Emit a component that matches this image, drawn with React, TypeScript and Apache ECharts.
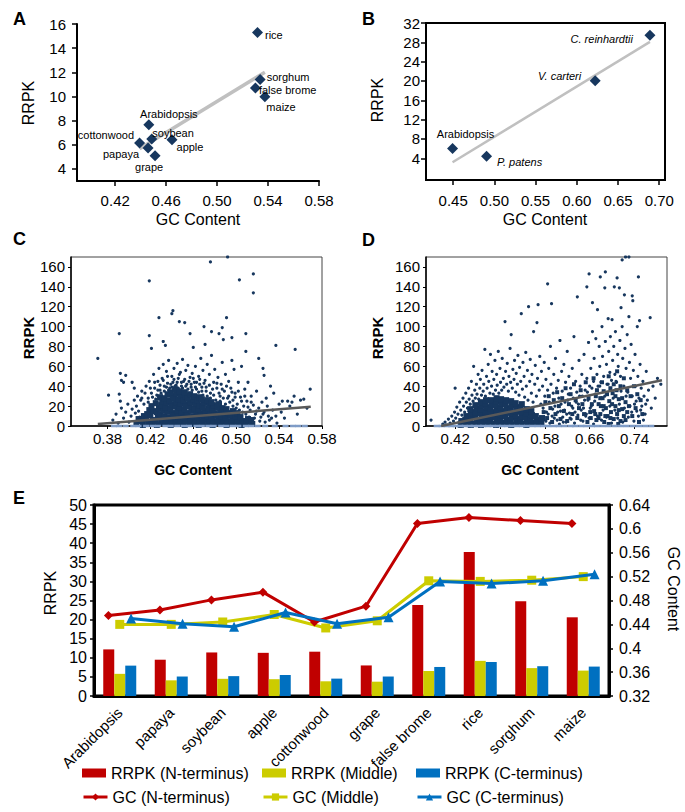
import React, { useEffect, useRef } from "react";
import * as echarts from "echarts";

const FONT = '"Liberation Sans", Arial, Helvetica, sans-serif';
const NAVY = "#17375E";
const RED = "#C00000";
const YEL = "#CCCC00";
const BLU = "#0070C0";

// ---------- Panel A ----------
const aSpecies = ["rice", "sorghum", "false brome", "maize", "Arabidopsis", "soybean", "apple", "cottonwood", "papaya", "grape"];
const aGC = [0.5317, 0.5338, 0.5301, 0.5375, 0.4464, 0.4487, 0.4646, 0.4391, 0.4458, 0.4513];
const aRRPK = [15.3, 11.4, 10.7, 9.97, 7.66, 6.48, 6.42, 6.15, 5.73, 5.1];
const aXTicks = [0.42, 0.46, 0.5, 0.54, 0.58];
const aYTicks = [4, 6, 8, 10, 12, 14, 16];

// ---------- Panel B ----------
const bSpecies = ["Arabidopsis", "P. patens", "V. carteri", "C. reinhardtii"];
const bGC = [0.4492, 0.4905, 0.6223, 0.6887];
const bRRPK = [6.0, 4.42, 20.04, 29.44];
const bXTicks = [0.45, 0.5, 0.55, 0.6, 0.65, 0.7];
const bYTicks = [4, 8, 12, 16, 20, 24, 28, 32];

// ---------- Panel C ----------
const cXTicks = [0.38, 0.42, 0.46, 0.5, 0.54, 0.58];
const cYTicks = [0, 20, 40, 60, 80, 100, 120, 140, 160];
const cTrend = [[0.371, 2], [0.5695, 19.4]];
const cCore = [
  [0.407, 2], [0.409, 7], [0.413, 1], [0.412, 5], [0.414, 10], [0.418, 3], [0.416, 7], [0.417, 12], [0.419, 16],
  [0.421, 2], [0.422, 6], [0.42, 11], [0.423, 15], [0.421, 20], [0.426, 1], [0.425, 5], [0.427, 9], [0.426, 14], [0.428, 18], [0.425, 23],
  [0.43, 3], [0.431, 7], [0.429, 12], [0.432, 16], [0.43, 21], [0.431, 25], [0.429, 29],
  [0.434, 2], [0.435, 6], [0.433, 10], [0.436, 15], [0.434, 19], [0.435, 24], [0.433, 28], [0.436, 32],
  [0.439, 1], [0.44, 5], [0.438, 9], [0.441, 13], [0.439, 18], [0.44, 22], [0.438, 26], [0.441, 30], [0.439, 34],
  [0.443, 3], [0.444, 7], [0.442, 11], [0.445, 15], [0.443, 20], [0.444, 24], [0.442, 28], [0.444, 33], [0.443, 37],
  [0.447, 2], [0.448, 6], [0.446, 10], [0.449, 14], [0.447, 19], [0.448, 23], [0.446, 27], [0.448, 31], [0.447, 35],
  [0.452, 1], [0.453, 5], [0.451, 9], [0.454, 13], [0.452, 17], [0.453, 22], [0.451, 26], [0.453, 30], [0.452, 34],
  [0.456, 3], [0.457, 7], [0.455, 11], [0.458, 16], [0.456, 20], [0.457, 24], [0.455, 28], [0.457, 32],
  [0.461, 2], [0.462, 6], [0.46, 10], [0.463, 14], [0.461, 18], [0.462, 23], [0.46, 27], [0.461, 30],
  [0.465, 1], [0.466, 5], [0.464, 9], [0.467, 13], [0.465, 17], [0.466, 21], [0.464, 26], [0.466, 29],
  [0.469, 3], [0.47, 7], [0.468, 11], [0.471, 15], [0.469, 19], [0.47, 24], [0.468, 27],
  [0.474, 2], [0.475, 6], [0.473, 10], [0.476, 14], [0.474, 18], [0.475, 22], [0.473, 26],
  [0.478, 1], [0.479, 5], [0.477, 9], [0.48, 13], [0.478, 17], [0.479, 21], [0.477, 24],
  [0.483, 3], [0.484, 7], [0.482, 11], [0.485, 15], [0.483, 19], [0.484, 22],
  [0.487, 2], [0.488, 6], [0.486, 10], [0.489, 14], [0.487, 18], [0.491, 1], [0.492, 5], [0.49, 9], [0.493, 13], [0.491, 17],
  [0.496, 3], [0.497, 7], [0.495, 11], [0.497, 15], [0.5, 2], [0.501, 6], [0.499, 10], [0.501, 13],
  [0.505, 1], [0.506, 5], [0.504, 9], [0.51, 3], [0.511, 7], [0.515, 2], [0.514, 6],
];
const cMid = [
  [0.385, 6], [0.388, 12], [0.39, 3], [0.393, 18], [0.395, 8], [0.397, 14], [0.399, 22], [0.4, 4], [0.402, 10], [0.403, 17],
  [0.405, 26], [0.406, 13], [0.407, 20], [0.409, 15], [0.41, 9],
  [0.405, 38], [0.408, 30], [0.411, 26], [0.412, 35], [0.414, 22], [0.416, 40], [0.418, 28], [0.419, 45], [0.421, 33], [0.423, 52],
  [0.424, 38], [0.425, 27], [0.427, 45], [0.428, 58], [0.429, 36], [0.431, 48], [0.432, 62], [0.433, 40], [0.435, 55], [0.436, 43],
  [0.437, 66], [0.438, 38], [0.44, 50], [0.441, 44], [0.442, 58], [0.444, 41], [0.445, 63], [0.446, 48], [0.448, 54], [0.449, 40],
  [0.45, 67], [0.451, 45], [0.453, 56], [0.454, 42], [0.455, 61], [0.457, 49], [0.458, 39], [0.459, 53], [0.461, 44], [0.462, 60],
  [0.463, 37], [0.465, 50], [0.466, 42], [0.467, 68], [0.468, 35], [0.469, 56], [0.471, 46], [0.472, 39], [0.473, 62], [0.475, 52],
  [0.476, 33], [0.477, 71], [0.479, 44], [0.48, 57], [0.482, 38], [0.483, 49], [0.485, 30], [0.486, 42], [0.487, 64], [0.489, 35],
  [0.49, 52], [0.492, 28], [0.493, 45], [0.495, 38], [0.497, 26], [0.498, 57], [0.499, 33], [0.501, 22], [0.502, 44], [0.504, 29],
  [0.505, 60], [0.507, 20], [0.508, 37], [0.51, 25], [0.511, 44], [0.513, 16], [0.514, 30], [0.516, 21], [0.518, 12], [0.519, 35],
  [0.521, 18], [0.523, 9], [0.524, 24], [0.526, 14], [0.529, 20], [0.531, 6], [0.534, 16], [0.537, 10], [0.54, 22], [0.545, 8],
  [0.552, 24], [0.557, 12], [0.56, 26], [0.566, 18],
  [0.412, 28], [0.415, 33], [0.418, 24], [0.42, 38], [0.422, 29], [0.424, 44], [0.426, 31], [0.427, 36], [0.429, 41], [0.43, 33],
  [0.432, 46], [0.433, 35], [0.435, 39], [0.436, 50], [0.437, 36], [0.439, 42], [0.44, 39], [0.442, 47], [0.443, 40], [0.445, 44],
  [0.446, 38], [0.447, 52], [0.449, 44], [0.45, 38], [0.452, 47], [0.453, 40], [0.455, 37], [0.456, 45], [0.458, 42], [0.459, 36],
  [0.46, 48], [0.462, 39], [0.463, 44], [0.465, 34], [0.466, 47], [0.468, 39], [0.469, 31], [0.47, 43], [0.472, 35], [0.473, 30],
  [0.475, 41], [0.476, 28], [0.478, 37], [0.479, 31], [0.481, 26], [0.482, 43], [0.484, 33], [0.485, 25], [0.487, 37], [0.488, 28],
  [0.49, 22], [0.491, 40], [0.493, 30], [0.494, 24], [0.496, 34], [0.497, 20], [0.499, 29], [0.5, 18], [0.502, 35], [0.503, 16],
  [0.505, 25], [0.506, 14], [0.508, 30], [0.509, 12], [0.511, 19], [0.512, 9], [0.514, 24], [0.517, 8], [0.519, 15], [0.522, 5],
  [0.525, 12], [0.527, 4], [0.533, 8], [0.538, 3],
];
const cOut = [
  [0.371, 68], [0.381, 31], [0.391, 93], [0.392, 53], [0.393, 46], [0.391, 32], [0.392, 25], [0.397, 51], [0.395, 44], [0.403, 44],
  [0.419, 146], [0.419, 91], [0.421, 78], [0.428, 109], [0.432, 85], [0.434, 81], [0.44, 113], [0.441, 116], [0.447, 105], [0.452, 104],
  [0.457, 93], [0.46, 79], [0.47, 100], [0.471, 82], [0.476, 165], [0.477, 95], [0.484, 93], [0.487, 99], [0.488, 87], [0.491, 109],
  [0.492, 170], [0.496, 89], [0.496, 66], [0.503, 147], [0.509, 93], [0.509, 75], [0.516, 153], [0.516, 134], [0.521, 68], [0.525, 58],
  [0.526, 51], [0.537, 81], [0.555, 77], [0.569, 37], [0.563, 27], [0.554, 30], [0.548, 25], [0.543, 25], [0.532, 40], [0.535, 33],
  [0.528, 28], [0.542, 14], [0.55, 20], [0.53, 10],
];
const cZero = [
  [0.386, 0], [0.391, 0], [0.397, 0], [0.404, 0], [0.409, 0], [0.416, 0], [0.422, 0], [0.427, 0], [0.434, 0], [0.439, 0],
  [0.445, 0], [0.451, 0], [0.456, 0], [0.463, 0], [0.468, 0], [0.474, 0], [0.479, 0], [0.486, 0], [0.491, 0], [0.497, 0],
  [0.502, 0], [0.509, 0], [0.514, 0], [0.52, 0], [0.527, 0], [0.536, 0], [0.546, 0], [0.553, 0], [0.558, 0], [0.564, 0],
];

// ---------- Panel D ----------
const dXTicks = [0.42, 0.5, 0.58, 0.66, 0.74];
const dYTicks = [0, 20, 40, 60, 80, 100, 120, 140, 160];
const dTrend = [[0.395, 0], [0.789, 46]];
const dCore = [
  [0.43, 1], [0.431, 5], [0.439, 2], [0.438, 6], [0.44, 10], [0.448, 1], [0.447, 5], [0.449, 9], [0.448, 13], [0.447, 17],
  [0.457, 2], [0.458, 6], [0.456, 10], [0.457, 14], [0.458, 18], [0.456, 21],
  [0.466, 1], [0.465, 5], [0.467, 9], [0.466, 13], [0.465, 17], [0.467, 21], [0.466, 24],
  [0.475, 3], [0.476, 7], [0.474, 11], [0.475, 15], [0.476, 19], [0.474, 23], [0.475, 26],
  [0.484, 2], [0.483, 6], [0.485, 10], [0.484, 14], [0.483, 18], [0.485, 22], [0.484, 26],
  [0.493, 1], [0.494, 5], [0.492, 9], [0.493, 13], [0.494, 17], [0.492, 21], [0.493, 25], [0.494, 28],
  [0.502, 3], [0.501, 7], [0.503, 11], [0.502, 15], [0.501, 19], [0.503, 23], [0.502, 27],
  [0.511, 2], [0.512, 6], [0.51, 10], [0.511, 14], [0.512, 18], [0.51, 22], [0.511, 26],
  [0.52, 1], [0.519, 5], [0.521, 9], [0.52, 13], [0.519, 17], [0.521, 21], [0.52, 25],
  [0.529, 3], [0.53, 7], [0.528, 11], [0.529, 15], [0.53, 19], [0.528, 23],
  [0.538, 2], [0.537, 6], [0.539, 10], [0.538, 14], [0.537, 18], [0.539, 22],
  [0.547, 1], [0.548, 5], [0.546, 9], [0.547, 13], [0.548, 17], [0.556, 3], [0.555, 7], [0.557, 11], [0.556, 15],
  [0.565, 2], [0.566, 6], [0.564, 10], [0.574, 4], [0.575, 8],
];
const dBand = [
  [0.662, 8], [0.668, 15], [0.672, 6], [0.676, 22], [0.679, 12], [0.683, 28], [0.686, 4], [0.689, 18], [0.692, 10], [0.695, 25],
  [0.698, 14], [0.701, 33], [0.703, 7], [0.706, 20], [0.709, 12], [0.712, 27], [0.715, 5], [0.718, 17], [0.721, 10], [0.724, 24],
  [0.727, 14], [0.671, 30], [0.685, 35], [0.697, 38], [0.708, 36], [0.68, 20], [0.694, 2], [0.711, 2],
  [0.578, 14], [0.581, 24], [0.584, 8], [0.587, 30], [0.59, 18], [0.593, 4], [0.596, 26], [0.599, 12], [0.602, 34], [0.605, 20],
  [0.608, 7], [0.611, 28], [0.614, 15], [0.617, 38], [0.62, 5], [0.623, 22], [0.626, 32], [0.629, 12], [0.632, 42], [0.635, 26],
  [0.638, 8], [0.641, 18], [0.644, 36], [0.647, 22], [0.65, 12], [0.653, 44], [0.656, 4], [0.658, 28], [0.661, 14], [0.664, 22],
  [0.667, 48], [0.67, 12], [0.673, 36], [0.676, 8], [0.679, 28], [0.682, 44], [0.685, 20], [0.688, 10], [0.691, 32], [0.694, 50],
  [0.697, 8], [0.7, 22], [0.703, 42], [0.706, 30], [0.709, 55], [0.712, 16], [0.715, 40], [0.718, 28], [0.721, 48], [0.724, 6],
  [0.727, 36], [0.73, 20], [0.733, 30], [0.736, 10], [0.739, 40], [0.742, 18], [0.745, 32], [0.748, 4], [0.751, 26], [0.754, 12],
];
const dMid = [
  [0.398, 2], [0.402, 4], [0.405, 1], [0.408, 7], [0.411, 3], [0.414, 10], [0.417, 5], [0.419, 14], [0.421, 8], [0.423, 19],
  [0.425, 12], [0.427, 4], [0.428, 24], [0.43, 16], [0.432, 11], [0.434, 28], [0.435, 20], [0.437, 14], [0.439, 33], [0.44, 24],
  [0.442, 18], [0.444, 38], [0.445, 27], [0.447, 22], [0.449, 45], [0.45, 31], [0.452, 25], [0.453, 60], [0.455, 36], [0.456, 28],
  [0.458, 42], [0.459, 32], [0.461, 52], [0.462, 27], [0.464, 38], [0.465, 47], [0.467, 31], [0.468, 56], [0.47, 35], [0.471, 42],
  [0.473, 77], [0.474, 30], [0.476, 50], [0.477, 38], [0.479, 62], [0.48, 45], [0.482, 33], [0.483, 72], [0.485, 40], [0.486, 55],
  [0.488, 32], [0.489, 47], [0.491, 66], [0.492, 36], [0.494, 52], [0.495, 41], [0.497, 75], [0.498, 33], [0.5, 58], [0.501, 44],
  [0.503, 36], [0.504, 68], [0.506, 48], [0.507, 39], [0.509, 105], [0.51, 55], [0.512, 42], [0.513, 63], [0.515, 35], [0.516, 50],
  [0.518, 78], [0.519, 44], [0.52, 92], [0.522, 38], [0.523, 57], [0.525, 47], [0.526, 66], [0.528, 34], [0.529, 53], [0.531, 42],
  [0.532, 71], [0.534, 31], [0.535, 59], [0.537, 45], [0.538, 113], [0.54, 37], [0.541, 64], [0.543, 50], [0.544, 29], [0.546, 74],
  [0.547, 40], [0.549, 56], [0.55, 26], [0.551, 120], [0.553, 45], [0.554, 67], [0.556, 33], [0.557, 52], [0.559, 24], [0.56, 95],
  [0.562, 42], [0.563, 61], [0.565, 30], [0.566, 104], [0.567, 48], [0.568, 122], [0.57, 36], [0.571, 70], [0.573, 22], [0.574, 55],
  [0.576, 40], [0.577, 18], [0.579, 64], [0.58, 30], [0.582, 47], [0.583, 14], [0.585, 143], [0.585, 36], [0.587, 58], [0.588, 24],
  [0.59, 80], [0.591, 42], [0.592, 123], [0.593, 10], [0.595, 33], [0.596, 52], [0.598, 20], [0.599, 68], [0.601, 38], [0.602, 6],
  [0.604, 46], [0.605, 28], [0.607, 86], [0.608, 15], [0.61, 55], [0.611, 35], [0.613, 4], [0.614, 62], [0.616, 24], [0.617, 44],
  [0.619, 12], [0.62, 75], [0.622, 32], [0.623, 50], [0.625, 8], [0.626, 38], [0.628, 20], [0.629, 58], [0.631, 28], [0.632, 90],
  [0.634, 14], [0.635, 45], [0.637, 34], [0.638, 130], [0.64, 22], [0.641, 66], [0.643, 40], [0.644, 6], [0.646, 52], [0.647, 30],
  [0.649, 18], [0.65, 72], [0.652, 36], [0.653, 10], [0.655, 140], [0.655, 48], [0.657, 26], [0.658, 84], [0.659, 153], [0.66, 40],
  [0.662, 58], [0.663, 20], [0.665, 124], [0.665, 95], [0.667, 45], [0.668, 68], [0.67, 32], [0.671, 88], [0.673, 52], [0.674, 117],
  [0.675, 40], [0.677, 80], [0.678, 60], [0.679, 150], [0.68, 44], [0.682, 100], [0.683, 70], [0.685, 50], [0.687, 139], [0.688, 155],
  [0.688, 85], [0.69, 62], [0.691, 42], [0.693, 108], [0.694, 75], [0.696, 54], [0.697, 90], [0.699, 46], [0.7, 107], [0.701, 66],
  [0.703, 80], [0.704, 140], [0.705, 52], [0.706, 95], [0.708, 44], [0.709, 149], [0.71, 72], [0.711, 60], [0.713, 139], [0.714, 86],
  [0.715, 50], [0.716, 119], [0.718, 167], [0.718, 100], [0.719, 68], [0.721, 40], [0.722, 132], [0.723, 78], [0.724, 170], [0.725, 58],
  [0.727, 92], [0.728, 34], [0.73, 110], [0.73, 170], [0.731, 64], [0.733, 48], [0.734, 82], [0.736, 131], [0.736, 30], [0.737, 126],
  [0.738, 56], [0.74, 22], [0.741, 72], [0.742, 40], [0.744, 15], [0.745, 100], [0.746, 50], [0.747, 150], [0.748, 28], [0.749, 106],
  [0.75, 62], [0.752, 38], [0.753, 20], [0.755, 45], [0.757, 30], [0.759, 12], [0.761, 55], [0.763, 26], [0.765, 36], [0.768, 109],
  [0.77, 18], [0.773, 40], [0.777, 28], [0.781, 48], [0.787, 42], [0.377, 6], [0.42, 38],
  [0.582, 5], [0.586, 12], [0.589, 3], [0.594, 17], [0.597, 8], [0.603, 14], [0.606, 2], [0.609, 22], [0.612, 9], [0.615, 16],
  [0.618, 4], [0.621, 26], [0.624, 13], [0.627, 7], [0.63, 18], [0.633, 3], [0.636, 24], [0.639, 11], [0.642, 30], [0.645, 16],
  [0.648, 5], [0.651, 26], [0.654, 12], [0.656, 34], [0.659, 8], [0.661, 18], [0.664, 38], [0.667, 2], [0.669, 25], [0.674, 10],
  [0.678, 40], [0.681, 6], [0.684, 16], [0.687, 30], [0.69, 9], [0.693, 42], [0.696, 20], [0.699, 3], [0.702, 28], [0.705, 16],
  [0.707, 45], [0.71, 8], [0.713, 22], [0.716, 35], [0.719, 4], [0.722, 18], [0.725, 30], [0.729, 9], [0.732, 20], [0.735, 14],
  [0.739, 5], [0.743, 25], [0.747, 10], [0.751, 16], [0.756, 6], [0.76, 22],
];
const dZero = [
  [0.387, 0], [0.396, 0], [0.405, 0], [0.413, 0], [0.421, 0], [0.429, 0], [0.437, 0], [0.446, 0], [0.453, 0], [0.462, 0],
  [0.47, 0], [0.479, 0], [0.487, 0], [0.496, 0], [0.504, 0], [0.513, 0], [0.521, 0], [0.53, 0], [0.539, 0], [0.548, 0],
  [0.558, 0], [0.567, 0], [0.577, 0], [0.586, 0], [0.596, 0], [0.605, 0], [0.615, 0], [0.626, 0], [0.634, 0], [0.645, 0],
  [0.654, 0], [0.664, 0], [0.673, 0], [0.684, 0], [0.694, 0], [0.705, 0], [0.716, 0], [0.726, 0], [0.737, 0], [0.748, 0],
  [0.759, 0], [0.77, 0],
];

// ---------- Panel E ----------
const eCategories = ["Arabidopsis", "papaya", "soybean", "apple", "cottonwood", "grape", "false brome", "rice", "sorghum", "maize"];
const rrpkN = [12.2, 9.5, 11.4, 11.3, 11.6, 8.0, 23.8, 37.7, 24.8, 20.6];
const rrpkM = [5.8, 4.1, 4.5, 4.4, 3.85, 3.75, 6.55, 9.2, 7.3, 6.65];
const rrpkC = [7.95, 5.1, 5.2, 5.5, 4.55, 5.1, 7.6, 8.9, 7.8, 7.7];
const gcN = [0.455, 0.464, 0.481, 0.494, 0.444, 0.4705, 0.609, 0.619, 0.614, 0.609];
const gcM = [0.44, 0.44, 0.444, 0.4565, 0.434, 0.446, 0.513, 0.512, 0.514, 0.52];
const gcC = [0.45, 0.441, 0.436, 0.46, 0.441, 0.452, 0.512, 0.5085, 0.513, 0.524];

function fit(xs: number[], ys: number[]) {
  const n = xs.length;
  const mx = xs.reduce((a, b) => a + b, 0) / n;
  const my = ys.reduce((a, b) => a + b, 0) / n;
  let sxy = 0, sxx = 0;
  for (let i = 0; i < n; i++) { sxy += (xs[i] - mx) * (ys[i] - my); sxx += (xs[i] - mx) ** 2; }
  const m = sxy / sxx, b = my - m * mx;
  const x0 = Math.min(...xs), x1 = Math.max(...xs);
  return [[x0, b + m * x0], [x1, b + m * x1]];
}

const aLabel: Record<string, any> = {
  rice: { position: "right", distance: 2, offset: [0, 3] },
  sorghum: { position: "right", distance: 1, offset: [0, -3] },
  "false brome": { position: "right", distance: -2, offset: [0, 1.5] },
  maize: { position: "right", distance: -4, offset: [0, 10] },
  Arabidopsis: { position: "top", distance: 0, offset: [20, 0] },
  soybean: { position: "right", distance: -5, offset: [0, -6] },
  apple: { position: "right", distance: -1, offset: [0, 7] },
  cottonwood: { position: "left", distance: 0, offset: [0, -8] },
  papaya: { position: "left", distance: 3.5, offset: [0, 6] },
  grape: { position: "bottom", distance: 0, offset: [-6, 0] },
};
const bLabel: Record<string, any> = {
  Arabidopsis: { position: "top", distance: 4, offset: [13, 0] },
  "P. patens": { position: "right", distance: 5, offset: [0, 6], fontStyle: "italic" },
  "V. carteri": { position: "left", distance: 8.5, offset: [0, -5], fontStyle: "italic" },
  "C. reinhardtii": { position: "left", distance: 11.5, offset: [0, 4], fontStyle: "italic" },
};

function vAxis(gridIndex: number, min: number, max: number, ticks: number[], fmt: (v: number) => string, o: any = {}) {
  return {
    type: "value", gridIndex, min, max,
    splitLine: { show: false },
    axisLine: { show: true, onZero: false, lineStyle: { color: "#000", width: o.lw ?? 2 } },
    axisTick: { show: true, customValues: ticks, length: o.tl ?? 5, lineStyle: { color: "#000", width: o.tw ?? 1.5 } },
    axisLabel: { customValues: ticks, formatter: fmt, fontSize: o.fs ?? 15, color: "#000", margin: o.margin ?? 8, fontFamily: FONT },
  };
}
const f2 = (v: number) => v.toFixed(2);
const f0 = (v: number) => String(Math.round(v));

function txt(text: string, x: number, y: number, font: string, rotation = 0, align = "center") {
  return { type: "text", x, y, rotation, silent: true,
    style: { text, font, fill: "#000", textAlign: align, textVerticalAlign: "middle" } };
}

function leg(name: string, left: number, top: number, rect: boolean) {
  return {
    left, top, itemGap: 0, itemWidth: 24, itemHeight: 9, selectedMode: false, padding: 0,
    lineStyle: { width: 3 },
    textStyle: { fontSize: 16, color: "#000", fontFamily: FONT },
    data: [rect ? { name, icon: "rect" } : name],
  };
}

const pt = (sz: any, sym = "circle") => ({ symbol: sym, symbolSize: sz, itemStyle: { color: NAVY, opacity: 1 } });

export default function App() {
  const ref = useRef<HTMLDivElement>(null);
  useEffect(() => {
    if (!ref.current) return;
    const chart = echarts.init(ref.current, undefined, { renderer: "svg" });
    const off = 0.22;
    const lbl = { show: true, formatter: "{b}", fontSize: 11, color: "#000", fontFamily: FONT, textBorderWidth: 0 };
    const option: any = {
      animation: false,
      backgroundColor: "#fff",
      textStyle: { fontFamily: FONT },
      grid: [
        { left: 77, top: 24, width: 242, height: 157 },
        { left: 426, top: 23, width: 239, height: 157, show: true, borderColor: "#000", borderWidth: 2 },
        { left: 71, top: 257, width: 251, height: 169, show: true, borderColor: "#444", borderWidth: 1 },
        { left: 426, top: 257, width: 241, height: 169, show: true, borderColor: "#444", borderWidth: 1 },
        { left: 94, top: 505, width: 515, height: 191, show: true, borderColor: "#000", borderWidth: 3 },
      ],
      xAxis: [
        vAxis(0, 0.39, 0.58, aXTicks, f2, { margin: 12 }),
        vAxis(1, 0.417, 0.707, bXTicks, f2, { margin: 13 }),
        vAxis(2, 0.346, 0.58, cXTicks, f2, { lw: 1.5, tl: 3, tw: 1, margin: 5 }),
        vAxis(3, 0.368, 0.798, dXTicks, f2, { lw: 1.5, tl: 3, tw: 1, margin: 5 }),
        {
          type: "category", gridIndex: 4, data: eCategories,
          axisLine: { lineStyle: { color: "#000", width: 3 } },
          axisTick: { interval: 0, length: 5, lineStyle: { color: "#000", width: 2 } },
          axisLabel: { interval: 0, rotate: 45, fontSize: 15, color: "#000", margin: 14, fontFamily: FONT },
        },
        { type: "value", gridIndex: 4, min: 0, max: eCategories.length, show: false },
      ],
      yAxis: [
        vAxis(0, 3, 16, aYTicks, f0, { margin: 11 }),
        vAxis(1, -0.5, 32, bYTicks, f0, { margin: 6 }),
        vAxis(2, 0, 170, cYTicks, f0, { lw: 1.5, tl: 3, tw: 1, margin: 6 }),
        vAxis(3, 0, 170, dYTicks, f0, { lw: 1.5, tl: 3, tw: 1, margin: 6 }),
        {
          type: "value", gridIndex: 4, min: 0, max: 50, interval: 5, splitLine: { show: false },
          axisLine: { show: true, lineStyle: { color: "#000", width: 3 } },
          axisTick: { show: true, length: 4, lineStyle: { color: "#000", width: 1.5 } },
          axisLabel: { fontSize: 16, color: "#000", margin: 7, fontFamily: FONT },
        },
        {
          type: "value", gridIndex: 4, position: "right", min: 0.32, max: 0.64, interval: 0.04, splitLine: { show: false },
          axisLine: { show: true, lineStyle: { color: "#000", width: 3 } },
          axisTick: { show: true, length: 4, lineStyle: { color: "#000", width: 1.5 } },
          axisLabel: { fontSize: 16, color: "#000", margin: 10, fontFamily: FONT },
        },
      ],
      legend: [
        leg("RRPK (N-terminus)", 82, 765, true),
        leg("RRPK (Middle)", 262, 765, true),
        leg("RRPK (C-terminus)", 416, 765, true),
        leg("GC (N-terminus)", 82, 789, false),
        leg("GC (Middle)", 262, 789, false),
        leg("GC (C-terminus)", 416, 789, false),
      ],
      graphic: [
        txt("A", 13, 19, `bold 18px ${FONT}`, 0, "left"),
        txt("B", 362, 19, `bold 18px ${FONT}`, 0, "left"),
        txt("C", 13, 239, `bold 18px ${FONT}`, 0, "left"),
        txt("D", 362, 240, `bold 18px ${FONT}`, 0, "left"),
        txt("E", 13, 498, `bold 18px ${FONT}`, 0, "left"),
        txt("RRPK", 28, 103, `16px ${FONT}`, Math.PI / 2),
        txt("GC Content", 198, 219, `16px ${FONT}`),
        txt("RRPK", 377, 100, `16px ${FONT}`, Math.PI / 2),
        txt("GC Content", 545, 219, `16px ${FONT}`),
        txt("RRPK", 28, 338, `bold 15px ${FONT}`, Math.PI / 2),
        txt("GC Content", 193, 470, `bold 14px ${FONT}`),
        txt("RRPK", 377, 338, `bold 15px ${FONT}`, Math.PI / 2),
        txt("GC Content", 540, 470, `bold 14px ${FONT}`),
        txt("RRPK", 50, 593, `16px ${FONT}`, Math.PI / 2),
        txt("GC Content", 673, 589, `16px ${FONT}`, -Math.PI / 2),
      ],
      series: [
        // A
        { type: "line", xAxisIndex: 0, yAxisIndex: 0, data: fit(aGC, aRRPK), symbol: "none", z: 1,
          lineStyle: { color: "#C0C0C0", width: 3.5 } },
        { type: "scatter", xAxisIndex: 0, yAxisIndex: 0, z: 3, ...pt(11, "diamond"),
          data: aSpecies.map((n, i) => ({ name: n, value: [aGC[i], aRRPK[i]], label: { ...lbl, ...aLabel[n] } })) },
        // B
        { type: "line", xAxisIndex: 1, yAxisIndex: 1, data: fit(bGC, bRRPK), symbol: "none", z: 1,
          lineStyle: { color: "#C0C0C0", width: 2.5 } },
        { type: "scatter", xAxisIndex: 1, yAxisIndex: 1, z: 3, ...pt(11, "diamond"),
          data: bSpecies.map((n, i) => ({ name: n, value: [bGC[i], bRRPK[i]], label: { ...lbl, ...bLabel[n] } })) },
        // C
        { type: "scatter", xAxisIndex: 2, yAxisIndex: 2, data: cCore, ...pt(6, "rect") },
        { type: "scatter", xAxisIndex: 2, yAxisIndex: 2, data: cMid.concat(cOut), ...pt(3.2) },
        { type: "scatter", xAxisIndex: 2, yAxisIndex: 2, data: cZero, symbol: "rect", symbolSize: [6, 2.5], z: 4,
          itemStyle: { color: "#7F9CC7", opacity: 1 } },
        { type: "line", xAxisIndex: 2, yAxisIndex: 2, data: cTrend, symbol: "none", z: 5, lineStyle: { color: "#595959", width: 2.5 } },
        // D
        { type: "scatter", xAxisIndex: 3, yAxisIndex: 3, data: dCore, ...pt(6, "rect") },
        { type: "scatter", xAxisIndex: 3, yAxisIndex: 3, data: dBand, ...pt(4, "rect") },
        { type: "scatter", xAxisIndex: 3, yAxisIndex: 3, data: dMid, ...pt(3.2) },
        { type: "scatter", xAxisIndex: 3, yAxisIndex: 3, data: dZero, symbol: "rect", symbolSize: [6, 2.5], z: 4,
          itemStyle: { color: "#7F9CC7", opacity: 1 } },
        { type: "line", xAxisIndex: 3, yAxisIndex: 3, data: dTrend, symbol: "none", z: 5, lineStyle: { color: "#595959", width: 2.5 } },
        // E bars
        { name: "RRPK (N-terminus)", type: "bar", xAxisIndex: 4, yAxisIndex: 4, data: rrpkN, barWidth: 11, barGap: "0%", itemStyle: { color: RED } },
        { name: "RRPK (Middle)", type: "bar", xAxisIndex: 4, yAxisIndex: 4, data: rrpkM, barWidth: 11, barGap: "0%", itemStyle: { color: YEL } },
        { name: "RRPK (C-terminus)", type: "bar", xAxisIndex: 4, yAxisIndex: 4, data: rrpkC, barWidth: 11, barGap: "0%", itemStyle: { color: BLU } },
        // E lines
        { name: "GC (N-terminus)", type: "line", xAxisIndex: 5, yAxisIndex: 5, z: 5,
          data: gcN.map((v, i) => [i + 0.5 - off, v]), symbol: "diamond", symbolSize: 9,
          lineStyle: { color: RED, width: 3 }, itemStyle: { color: RED } },
        { name: "GC (Middle)", type: "line", xAxisIndex: 5, yAxisIndex: 5, z: 5,
          data: gcM.map((v, i) => [i + 0.5, v]), symbol: "rect", symbolSize: 9,
          lineStyle: { color: YEL, width: 3 }, itemStyle: { color: YEL } },
        { name: "GC (C-terminus)", type: "line", xAxisIndex: 5, yAxisIndex: 5, z: 6,
          data: gcC.map((v, i) => [i + 0.5 + off, v]), symbol: "triangle", symbolSize: 10,
          lineStyle: { color: BLU, width: 3 }, itemStyle: { color: BLU } },
      ],
    };
    chart.setOption(option);
    return () => chart.dispose();
  }, []);
  return <div ref={ref} style={{ position: "fixed", left: 0, top: 0, width: 685, height: 812, background: "#fff" }} />;
}
